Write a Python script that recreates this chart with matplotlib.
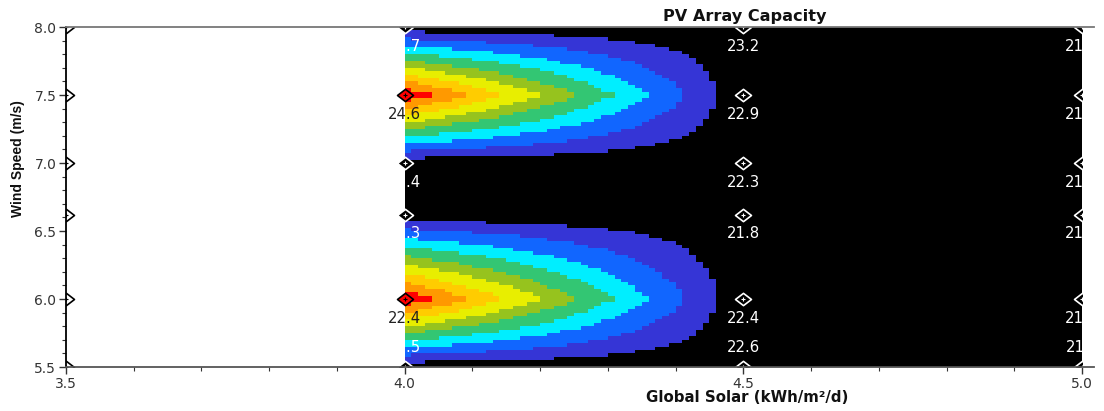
import numpy as np
import matplotlib
matplotlib.use("Agg")
import matplotlib.pyplot as plt
from matplotlib.colors import ListedColormap, BoundaryNorm
from matplotlib.transforms import Bbox, TransformedBbox
from matplotlib.path import Path
from matplotlib.ticker import MultipleLocator, FormatStrFormatter

# Sensitivity grid
solar = [3.5, 4.0, 4.5, 5.0]          # Global Solar (kWh/m2/d)
wind = [5.5, 6.0, 6.62, 7.0, 7.5, 8.0]  # Wind Speed (m/s), bottom to top

# PV array capacity (kW); rows follow `wind`, columns follow `solar` (None = no feasible system)
pv_capacity = [
    [None, 22.5, 22.6, 21.4],
    [None, 22.4, 22.4, 21.3],
    [None, 22.3, 21.8, 21.1],
    [None, 23.4, 22.3, 21.2],
    [None, 24.6, 22.9, 21.5],
    [None, 23.7, 23.2, 21.6],
]

# Colour-filled surface variable on the same grid (NaN = no feasible system)
surface = [
    [np.nan, 0, 0, 0],
    [np.nan, 100, 0, 0],
    [np.nan, 0, 0, 0],
    [np.nan, 0, 0, 0],
    [np.nan, 100, 0, 0],
    [np.nan, 0, 0, 0],
]
surface_levels = [7, 17, 28, 38, 49, 59, 70, 80, 90]
band_colors = ["#000000", "#3535d6", "#1166ff", "#00eeff", "#33c673",
               "#96c31e", "#e8ee00", "#ffcc00", "#ff9900", "#ff0000"]

cmap = ListedColormap(band_colors)
norm = BoundaryNorm([-1e9] + surface_levels + [1e9], cmap.N)

fig = plt.figure(figsize=(11.04, 4.11), dpi=100)
ax = fig.add_axes([66 / 1104, 1 - 367 / 411, 1028 / 1104, 340 / 411])
ax.set_facecolor("white")
ax.set_xlim(3.5, 5.0 + 12 / 677.3)
ax.set_ylim(5.5, 8.0)

# Bilinear interpolation of the surface onto a fine raster (feasible columns only)
zs = np.array(surface, dtype=float)
xs_feas = np.array(solar[1:])
nx, ny = 100, 100
xe = np.linspace(4.0, 5.0, nx + 1)
ye = np.linspace(5.5, 8.0, ny + 1)
xc = 0.5 * (xe[:-1] + xe[1:])
yc = 0.5 * (ye[:-1] + ye[1:])
cols = np.column_stack([np.interp(yc, wind, zs[:, j]) for j in range(1, len(solar))])
zfine = np.vstack([np.interp(xc, xs_feas, row) for row in cols])
ax.pcolormesh(xe, ye, zfine, cmap=cmap, norm=norm, shading="flat",
              antialiased=False, edgecolors="none", zorder=1)

# Markers and labels are clipped to the data rectangle
clip = TransformedBbox(Bbox([[3.5, 5.5], [5.0, 8.0]]), ax.transData)
diamond = Path([(0, 1), (1.3, 0), (0, -1), (-1.3, 0), (0, 1)],
               [Path.MOVETO, Path.LINETO, Path.LINETO, Path.LINETO, Path.CLOSEPOLY])

for i, wy in enumerate(wind):
    for j, sx in enumerate(solar):
        val = zs[i, j]
        if np.isnan(val):
            fill = "white"
            dark = False
        else:
            fill = cmap(norm(val))
            dark = val < surface_levels[0]
        edge = "white" if dark else "black"
        (m,) = ax.plot([sx], [wy], ls="none", marker=diamond, ms=11.5,
                       mfc=fill, mec=edge, mew=1.2, zorder=4)
        m.set_clip_box(clip)
        (c,) = ax.plot([sx], [wy], ls="none", marker="+", ms=3.5,
                       mew=0.8, color=edge, zorder=5)
        c.set_clip_box(clip)
        cap = pv_capacity[i][j]
        if cap is None:
            continue
        dy = 13.7 if wy == wind[0] else -13.7
        t = ax.annotate(f"{cap:.1f}", (sx, wy), xytext=(0, dy), textcoords="offset points",
                        ha="center", va="center", fontsize=10.7,
                        family="DejaVu Sans",
                        color="#ffffff" if dark else "#222222",
                        annotation_clip=False, zorder=6)
        t.set_clip_box(clip)
        t.set_clip_on(True)

# Axes styling
ax.xaxis.set_major_locator(MultipleLocator(0.5))
ax.xaxis.set_minor_locator(MultipleLocator(0.1))
ax.yaxis.set_major_locator(MultipleLocator(0.5))
ax.yaxis.set_minor_locator(MultipleLocator(0.1))
ax.xaxis.set_major_formatter(FormatStrFormatter("%.1f"))
ax.yaxis.set_major_formatter(FormatStrFormatter("%.1f"))
ax.tick_params(which="major", direction="out", length=5, width=1.0,
               colors="#333333", labelsize=10, pad=2)
ax.tick_params(which="minor", direction="out", length=3, width=0.8, colors="#333333")
ax.tick_params(top=False, right=False, which="both")
for lab in ax.get_xticklabels() + ax.get_yticklabels():
    lab.set_family("DejaVu Sans")
ax.spines["right"].set_visible(False)
ax.spines["left"].set_color("#000000")
ax.spines["bottom"].set_color("#555555")
ax.spines["top"].set_color("#777777")
for s in ("left", "bottom", "top"):
    ax.spines[s].set_linewidth(1.3)
    ax.spines[s].set_zorder(7)

fig.text(745 / 1104, 1 - 16 / 411, "PV Array Capacity", ha="center", va="center",
         fontsize=11.6, fontweight="bold", family="DejaVu Sans", color="#111111")
fig.text(747 / 1104, 1 - 397 / 411, "Global Solar (kWh/m²/d)", ha="center", va="center",
         fontsize=10.8, fontweight="bold", family="DejaVu Sans", color="#111111")
fig.text(18 / 1104, 1 - 159 / 411, "Wind Speed (m/s)", ha="center", va="center",
         rotation=90, fontsize=10, fontweight="bold", family="Liberation Sans", color="#111111")

fig.savefig("out.png", dpi=100, facecolor="white")
